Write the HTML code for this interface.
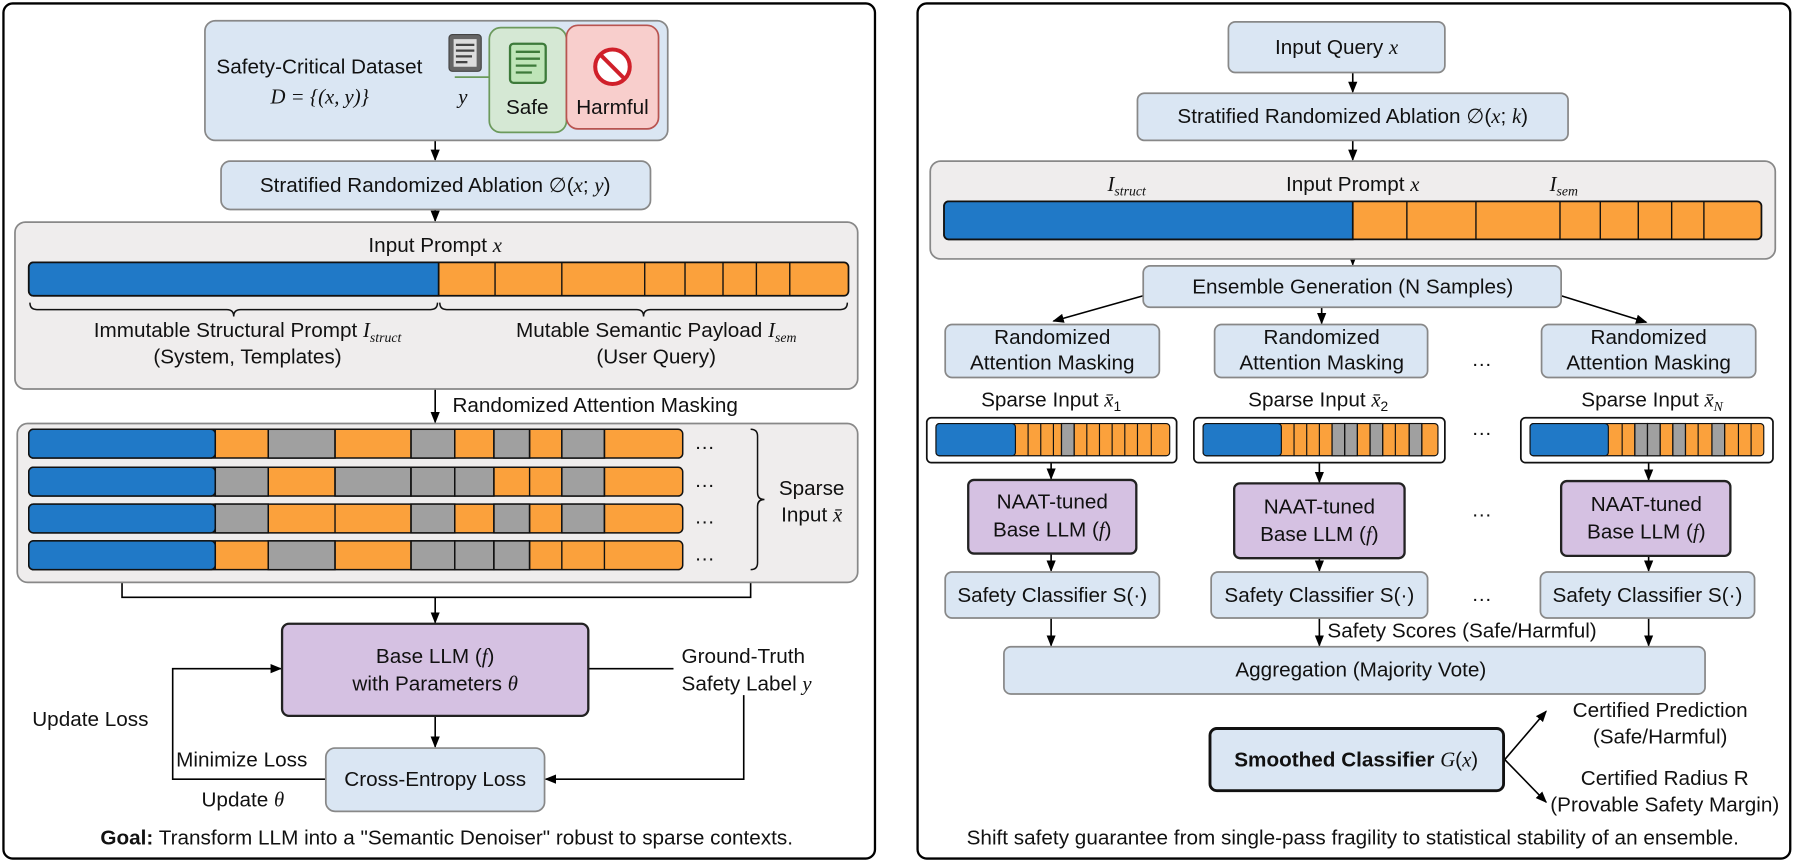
<!DOCTYPE html>
<html><head><meta charset="utf-8"><style>
html,body{margin:0;padding:0;background:#fff;}
svg{display:block;}
text{font-family:"Liberation Sans",sans-serif;font-size:18px;fill:#111;}
.m{font-family:"Liberation Serif",serif;font-style:italic;}
</style></head><body>
<svg width="1796" height="862" viewBox="0 0 1560 749" preserveAspectRatio="none" xmlns="http://www.w3.org/2000/svg">
<defs>
<marker id="a" markerWidth="10" markerHeight="10" refX="9" refY="5" orient="auto" markerUnits="userSpaceOnUse"><path d="M0,1 L10,5 L0,9 Z" fill="#000"/></marker>
</defs>
<rect x="3" y="3" width="757" height="743" rx="8" fill="#fff" stroke="#000" stroke-width="2"/>
<rect x="797" y="3" width="758" height="743" rx="8" fill="#fff" stroke="#000" stroke-width="2"/>

<g stroke="#000" stroke-width="1.4" fill="none">
<line x1="378" y1="122" x2="378" y2="139" marker-end="url(#a)"/>
<line x1="378" y1="182" x2="378" y2="192" marker-end="url(#a)"/>
<line x1="378" y1="338" x2="378" y2="367" marker-end="url(#a)"/>
<polyline points="106,506 106,519 652,519 652,506"/>
<line x1="378" y1="519" x2="378" y2="541" marker-end="url(#a)"/>
<line x1="378" y1="622" x2="378" y2="649" marker-end="url(#a)"/>
<line x1="511" y1="581" x2="585" y2="581"/>
<polyline points="646,604 646,677 474,677" marker-end="url(#a)"/>
<polyline points="283,677 150,677 150,581 244,581" marker-end="url(#a)"/>
<line x1="1175" y1="63" x2="1175" y2="80" marker-end="url(#a)"/>
<line x1="1175" y1="122" x2="1175" y2="139" marker-end="url(#a)"/>
<line x1="1175" y1="225" x2="1175" y2="230" marker-end="url(#a)"/>
<line x1="993" y1="257" x2="915" y2="279" marker-end="url(#a)"/>
<line x1="1148" y1="267" x2="1148" y2="281" marker-end="url(#a)"/>
<line x1="1356" y1="257" x2="1430" y2="280" marker-end="url(#a)"/>
<line x1="913" y1="402" x2="913" y2="416" marker-end="url(#a)"/>
<line x1="1146" y1="402" x2="1146" y2="419" marker-end="url(#a)"/>
<line x1="1432" y1="402" x2="1432" y2="417" marker-end="url(#a)"/>
<line x1="913" y1="481" x2="913" y2="496" marker-end="url(#a)"/>
<line x1="1146" y1="485" x2="1146" y2="496" marker-end="url(#a)"/>
<line x1="1432" y1="483" x2="1432" y2="496" marker-end="url(#a)"/>
<line x1="913" y1="537" x2="913" y2="561" marker-end="url(#a)"/>
<line x1="1146" y1="537" x2="1146" y2="561" marker-end="url(#a)"/>
<line x1="1432" y1="537" x2="1432" y2="561" marker-end="url(#a)"/>
<line x1="1307" y1="660" x2="1343" y2="618" marker-end="url(#a)"/>
<line x1="1307" y1="660" x2="1343" y2="697" marker-end="url(#a)"/>
</g>

<rect x="178" y="18" width="402" height="104" rx="9" fill="#dae6f3" stroke="#888" stroke-width="1.5"/>
<text x="188" y="64">Safety-Critical Dataset</text>
<text x="235" y="90" class="m">D = {(x, y)}</text>
<rect x="390" y="30" width="28" height="32" rx="3" fill="#666" stroke="#444"/>
<rect x="394" y="34" width="20" height="24" fill="#ddd"/>
<g stroke="#444" stroke-width="2"><line x1="396" y1="39" x2="412" y2="39"/><line x1="396" y1="44" x2="412" y2="44"/><line x1="396" y1="49" x2="410" y2="49"/><line x1="396" y1="54" x2="406" y2="54"/></g>
<line x1="395" y1="67" x2="426" y2="67" stroke="#6a9a5a" stroke-width="1.5"/>
<text x="398" y="90" class="m">y</text>
<rect x="425" y="24" width="67" height="91" rx="10" fill="#d5e8d4" stroke="#6c9a5c" stroke-width="1.5"/>
<rect x="443" y="38" width="31" height="34" rx="3" fill="#bfe5b8" stroke="#3d7a3a" stroke-width="2"/>
<g stroke="#3d7a3a" stroke-width="2"><line x1="448" y1="45" x2="469" y2="45"/><line x1="448" y1="51" x2="469" y2="51"/><line x1="448" y1="57" x2="466" y2="57"/><line x1="448" y1="63" x2="462" y2="63"/></g>
<text x="458" y="99" text-anchor="middle">Safe</text>
<rect x="492" y="22" width="80" height="90" rx="10" fill="#f8cecc" stroke="#b85450" stroke-width="1.5"/>
<circle cx="532" cy="58" r="15" fill="#fff" stroke="#d0202a" stroke-width="3.5"/>
<line x1="522" y1="48" x2="542" y2="68" stroke="#d0202a" stroke-width="3.5"/>
<text x="532" y="99" text-anchor="middle">Harmful</text>

<rect x="192" y="140" width="373" height="42" rx="8" fill="#dae6f3" stroke="#888" stroke-width="1.5"/>
<text x="378" y="167" text-anchor="middle">Stratified Randomized Ablation ∅(<tspan class="m">x</tspan>; <tspan class="m">y</tspan>)</text>

<rect x="13" y="193" width="732" height="145" rx="9" fill="#efeded" stroke="#888" stroke-width="1.5"/>
<text x="378" y="219" text-anchor="middle">Input Prompt <tspan class="m">x</tspan></text>
<rect x="25" y="228" width="712" height="29" rx="4" fill="#fba13c" stroke="#111" stroke-width="1.5"/>
<path d="M381,228 H29 a4,4 0 0 0 -4,4 V253 a4,4 0 0 0 4,4 H381 Z" fill="#2079c7" stroke="#111" stroke-width="1.5"/>
<g stroke="#111" stroke-width="1.2"><line x1="430" y1="228" x2="430" y2="257"/><line x1="488" y1="228" x2="488" y2="257"/><line x1="560" y1="228" x2="560" y2="257"/><line x1="595" y1="228" x2="595" y2="257"/><line x1="628" y1="228" x2="628" y2="257"/><line x1="657" y1="228" x2="657" y2="257"/><line x1="686" y1="228" x2="686" y2="257"/></g>
<g stroke="#111" stroke-width="1.3" fill="none">
<path d="M26,263 q0,6 6,6 H197 q6,0 6,6 q0,-6 6,-6 H374 q6,0 6,-6"/>
<path d="M382,263 q0,6 6,6 H553 q6,0 6,6 q0,-6 6,-6 H730 q6,0 6,-6"/>
</g>
<text x="215" y="293" text-anchor="middle">Immutable Structural Prompt <tspan class="m">I</tspan><tspan class="m" font-size="12" dy="4">struct</tspan></text>
<text x="215" y="316" text-anchor="middle">(System, Templates)</text>
<text x="570" y="293" text-anchor="middle">Mutable Semantic Payload <tspan class="m">I</tspan><tspan class="m" font-size="12" dy="4">sem</tspan></text>
<text x="570" y="316" text-anchor="middle">(User Query)</text>
<text x="393" y="358">Randomized Attention Masking</text>

<rect x="15" y="368" width="730" height="138" rx="9" fill="#efeded" stroke="#888" stroke-width="1.5"/>
<g stroke="#111" stroke-width="1.3">
<rect x="25" y="373" width="568" height="25" rx="4" fill="#fba13c"/>
<rect x="25" y="373" width="162" height="25" rx="4" fill="#2079c7"/>
<rect x="233" y="373" width="58" height="25" fill="#a0a0a0"/><rect x="357" y="373" width="38" height="25" fill="#a0a0a0"/><rect x="429" y="373" width="31" height="25" fill="#a0a0a0"/><rect x="488" y="373" width="37" height="25" fill="#a0a0a0"/>
<rect x="25" y="406" width="568" height="25" rx="4" fill="#fba13c"/>
<rect x="25" y="406" width="162" height="25" rx="4" fill="#2079c7"/>
<rect x="187" y="406" width="46" height="25" fill="#a0a0a0"/><rect x="291" y="406" width="66" height="25" fill="#a0a0a0"/><rect x="357" y="406" width="38" height="25" fill="#a0a0a0"/><rect x="395" y="406" width="34" height="25" fill="#a0a0a0"/><rect x="488" y="406" width="37" height="25" fill="#a0a0a0"/>
<rect x="25" y="438" width="568" height="25" rx="4" fill="#fba13c"/>
<rect x="25" y="438" width="162" height="25" rx="4" fill="#2079c7"/>
<rect x="187" y="438" width="46" height="25" fill="#a0a0a0"/><rect x="357" y="438" width="38" height="25" fill="#a0a0a0"/><rect x="429" y="438" width="31" height="25" fill="#a0a0a0"/><rect x="488" y="438" width="37" height="25" fill="#a0a0a0"/>
<rect x="25" y="470" width="568" height="25" rx="4" fill="#fba13c"/>
<rect x="25" y="470" width="162" height="25" rx="4" fill="#2079c7"/>
<rect x="233" y="470" width="58" height="25" fill="#a0a0a0"/><rect x="357" y="470" width="38" height="25" fill="#a0a0a0"/><rect x="395" y="470" width="34" height="25" fill="#a0a0a0"/><rect x="429" y="470" width="31" height="25" fill="#a0a0a0"/>
</g>
<g stroke="#111" stroke-width="1.2">
<path d="M187,373V398M233,373V398M291,373V398M357,373V398M395,373V398M429,373V398M460,373V398M488,373V398M525,373V398"/>
<path d="M187,406V431M233,406V431M291,406V431M357,406V431M395,406V431M429,406V431M460,406V431M488,406V431M525,406V431"/>
<path d="M187,438V463M233,438V463M291,438V463M357,438V463M395,438V463M429,438V463M460,438V463M488,438V463M525,438V463"/>
<path d="M187,470V495M233,470V495M291,470V495M357,470V495M395,470V495M429,470V495M460,470V495M488,470V495M525,470V495"/>
</g>
<text x="603" y="390">…</text><text x="603" y="423">…</text><text x="603" y="455">…</text><text x="603" y="487">…</text>
<path d="M652,373 q6,0 6,6 V428 q0,6 6,6 q-6,0 -6,6 V489 q0,6 -6,6" stroke="#111" stroke-width="1.3" fill="none"/>
<text x="705" y="430" text-anchor="middle">Sparse</text>
<text x="705" y="453" text-anchor="middle">Input <tspan class="m">x̄</tspan></text>

<rect x="245" y="542" width="266" height="80" rx="6" fill="#d5c1e2" stroke="#222" stroke-width="2"/>
<text x="378" y="576" text-anchor="middle">Base LLM (<tspan class="m">f</tspan>)</text>
<text x="378" y="600" text-anchor="middle">with Parameters <tspan class="m">θ</tspan></text>
<text x="592" y="576">Ground-Truth</text>
<text x="592" y="600">Safety Label <tspan class="m">y</tspan></text>
<rect x="283" y="650" width="190" height="55" rx="8" fill="#dae6f3" stroke="#888" stroke-width="1.5"/>
<text x="378" y="683" text-anchor="middle">Cross-Entropy Loss</text>
<text x="28" y="631">Update Loss</text>
<text x="153" y="666">Minimize Loss</text>
<text x="175" y="701">Update <tspan class="m">θ</tspan></text>
<text x="388" y="734" text-anchor="middle" font-size="17"><tspan font-weight="bold">Goal:</tspan> Transform LLM into a "Semantic Denoiser" robust to sparse contexts.</text>

<rect x="1067" y="19" width="188" height="44" rx="6" fill="#dae6f3" stroke="#888" stroke-width="1.5"/>
<text x="1161" y="47" text-anchor="middle">Input Query <tspan class="m">x</tspan></text>
<rect x="988" y="81" width="374" height="41" rx="6" fill="#dae6f3" stroke="#888" stroke-width="1.5"/>
<text x="1175" y="107" text-anchor="middle">Stratified Randomized Ablation ∅(<tspan class="m">x</tspan>; <tspan class="m">k</tspan>)</text>
<rect x="808" y="140" width="734" height="85" rx="9" fill="#efeded" stroke="#888" stroke-width="1.5"/>
<text x="962" y="166" class="m">I<tspan font-size="12" dy="4">struct</tspan></text>
<text x="1175" y="166" text-anchor="middle">Input Prompt <tspan class="m">x</tspan></text>
<text x="1346" y="166" class="m">I<tspan font-size="12" dy="4">sem</tspan></text>
<rect x="820" y="175" width="710" height="33" rx="4" fill="#fba13c" stroke="#111" stroke-width="1.5"/>
<path d="M1175,175 H824 a4,4 0 0 0 -4,4 V204 a4,4 0 0 0 4,4 H1175 Z" fill="#2079c7" stroke="#111" stroke-width="1.5"/>
<path d="M1222,175V208M1282,175V208M1355,175V208M1390,175V208M1423,175V208M1452,175V208M1480,175V208" stroke="#111" stroke-width="1.2"/>

<rect x="993" y="231" width="363" height="36" rx="6" fill="#dae6f3" stroke="#888" stroke-width="1.5"/>
<text x="1175" y="255" text-anchor="middle">Ensemble Generation (N Samples)</text>

<g fill="#dae6f3" stroke="#888" stroke-width="1.5">
<rect x="821" y="282" width="186" height="46" rx="6"/><rect x="1055" y="282" width="185" height="46" rx="6"/><rect x="1339" y="282" width="186" height="46" rx="6"/>
</g>
<g text-anchor="middle">
<text x="914" y="299">Randomized</text><text x="914" y="321">Attention Masking</text>
<text x="1148" y="299">Randomized</text><text x="1148" y="321">Attention Masking</text>
<text x="1432" y="299">Randomized</text><text x="1432" y="321">Attention Masking</text>
<text x="913" y="353">Sparse Input <tspan class="m">x̄</tspan><tspan font-size="12" dy="4">1</tspan></text>
<text x="1145" y="353">Sparse Input <tspan class="m">x̄</tspan><tspan font-size="12" dy="4">2</tspan></text>
<text x="1435" y="353">Sparse Input <tspan class="m">x̄</tspan><tspan class="m" font-size="12" dy="4">N</tspan></text>
</g>
<text x="1278" y="318">…</text><text x="1278" y="378">…</text><text x="1278" y="449">…</text><text x="1278" y="522">…</text>

<g stroke="#111" stroke-width="1.5" fill="#fff">
<rect x="805" y="363" width="217" height="39" rx="4"/><rect x="1037" y="363" width="218" height="39" rx="4"/><rect x="1321" y="363" width="219" height="39" rx="4"/>
</g>
<g stroke="#111" stroke-width="1">
<rect x="813" y="368" width="203" height="28" rx="3" fill="#fba13c"/><rect x="813" y="368" width="69" height="28" rx="3" fill="#2079c7"/>
<rect x="1045" y="368" width="204" height="28" rx="3" fill="#fba13c"/><rect x="1045" y="368" width="68" height="28" rx="3" fill="#2079c7"/>
<rect x="1329" y="368" width="203" height="28" rx="3" fill="#fba13c"/><rect x="1329" y="368" width="68" height="28" rx="3" fill="#2079c7"/>
<g fill="#a0a0a0">
<rect x="922" y="368" width="11" height="28"/>
<rect x="1157" y="368" width="11" height="28"/><rect x="1168" y="368" width="11" height="28"/><rect x="1190" y="368" width="11" height="28"/><rect x="1224" y="368" width="11" height="28"/>
<rect x="1420" y="368" width="11" height="28"/><rect x="1431" y="368" width="11" height="28"/><rect x="1453" y="368" width="11" height="28"/><rect x="1487" y="368" width="11" height="28"/>
</g>
<path d="M893,368V396M904,368V396M915,368V396M922,368V396M933,368V396M944,368V396M955,368V396M966,368V396M977,368V396M988,368V396M1000,368V396"/>
<path d="M1124,368V396M1135,368V396M1146,368V396M1157,368V396M1168,368V396M1179,368V396M1190,368V396M1201,368V396M1212,368V396M1224,368V396M1235,368V396"/>
<path d="M1409,368V396M1420,368V396M1431,368V396M1442,368V396M1453,368V396M1464,368V396M1475,368V396M1487,368V396M1498,368V396M1510,368V396M1521,368V396"/>
</g>

<g fill="#d5c1e2" stroke="#222" stroke-width="2">
<rect x="841" y="417" width="146" height="64" rx="5"/><rect x="1072" y="420" width="148" height="65" rx="5"/><rect x="1356" y="418" width="147" height="65" rx="5"/>
</g>
<g text-anchor="middle">
<text x="914" y="442">NAAT-tuned</text><text x="914" y="466">Base LLM (<tspan class="m">f</tspan>)</text>
<text x="1146" y="446">NAAT-tuned</text><text x="1146" y="470">Base LLM (<tspan class="m">f</tspan>)</text>
<text x="1430" y="444">NAAT-tuned</text><text x="1430" y="468">Base LLM (<tspan class="m">f</tspan>)</text>
</g>
<g fill="#dae6f3" stroke="#888" stroke-width="1.5">
<rect x="821" y="497" width="186" height="40" rx="6"/><rect x="1052" y="497" width="188" height="40" rx="6"/><rect x="1338" y="497" width="186" height="40" rx="6"/>
</g>
<g text-anchor="middle">
<text x="914" y="523">Safety Classifier S(·)</text><text x="1146" y="523">Safety Classifier S(·)</text><text x="1431" y="523">Safety Classifier S(·)</text>
</g>
<text x="1153" y="554">Safety Scores (Safe/Harmful)</text>
<rect x="872" y="562" width="609" height="41" rx="6" fill="#dae6f3" stroke="#888" stroke-width="1.5"/>
<text x="1182" y="588" text-anchor="middle">Aggregation (Majority Vote)</text>
<rect x="1051" y="633" width="255" height="54" rx="6" fill="#dae6f3" stroke="#111" stroke-width="2.5"/>
<text x="1178" y="666" text-anchor="middle"><tspan font-weight="bold">Smoothed Classifier</tspan> <tspan class="m">G</tspan>(<tspan class="m">x</tspan>)</text>
<g text-anchor="middle">
<text x="1442" y="623">Certified Prediction</text><text x="1442" y="646">(Safe/Harmful)</text>
<text x="1446" y="682">Certified Radius R</text><text x="1446" y="705">(Provable Safety Margin)</text>
</g>
<text x="1175" y="734" text-anchor="middle" font-size="17">Shift safety guarantee from single-pass fragility to statistical stability of an ensemble.</text>
</svg>
</body></html>
